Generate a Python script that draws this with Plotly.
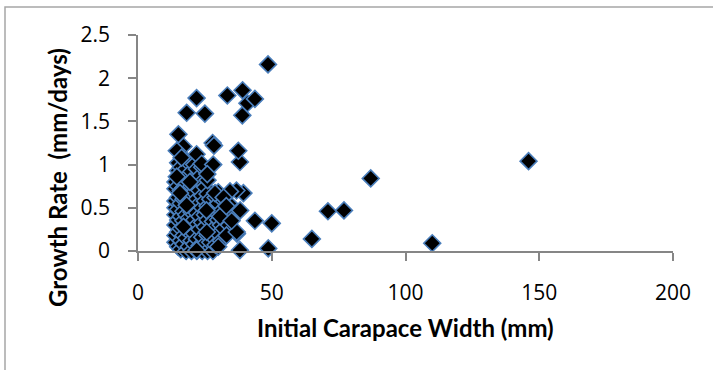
import plotly.graph_objects as go

# Outlying / readable points
x_out = [146, 87, 110, 65, 71, 77, 48.6, 48.7, 50, 43.7, 38.1, 37, 38.2, 39.4, 36.8,
         38.1, 37.5, 39, 40.9, 43.7, 39.1, 33.4, 21.9, 18.2, 25, 15.1, 27.9, 28.4,
         17, 14.5, 16.3, 21.9, 23.8, 28.1, 25.9, 19.4, 14.5, 15.7, 28.8, 34.4, 25.6,
         18.2, 30.7, 17, 33.1, 36.9, 25.7, 21.9, 32, 33, 35, 30]
y_out = [1.04, 0.84, 0.09, 0.14, 0.46, 0.47, 2.16, 0.03, 0.32, 0.35, 0.01, 0.20, 0.47, 0.67, 0.70,
         1.03, 1.16, 1.57, 1.71, 1.76, 1.86, 1.80, 1.77, 1.60, 1.59, 1.35, 1.25, 1.22,
         1.21, 1.16, 1.08, 1.12, 1.01, 1.00, 0.89, 0.80, 0.86, 0.67, 0.67, 0.69, 0.47,
         0.53, 0.40, 0.28, 0.18, 0.22, 0.22, 0.01, 0.62, 0.52, 0.35, 0.05]

# Dense cluster of small crabs
x_dense = [14, 14, 14, 14, 14, 14, 14, 14,
           15, 15, 15, 15, 15, 15, 15, 15,
           16, 16, 16, 16, 16, 16, 16, 16,
           17, 17, 17, 17, 17, 17, 17,
           18, 18, 18, 18, 18, 18, 18, 18,
           19, 19, 19, 19, 19, 19,
           20, 20, 20, 20, 20, 20, 20,
           21, 21, 21, 21, 21, 21, 21,
           22, 22, 22, 22, 22, 22, 22,
           23, 23, 23, 23, 23, 23,
           24, 24, 24, 24, 24, 24, 24,
           25, 25, 25, 25, 25,
           26, 26, 26, 26, 26, 26,
           27, 27, 27, 27,
           28, 28, 28, 28,
           29, 29, 29, 29,
           30, 30, 30, 30,
           31, 31, 31,
           32, 32, 32,
           34, 34, 34]
y_dense = [0.10, 0.18, 0.30, 0.42, 0.50, 0.58, 0.72, 0.80,
           0.05, 0.22, 0.36, 0.48, 0.62, 0.75, 0.93, 1.02,
           0.02, 0.12, 0.26, 0.40, 0.55, 0.70, 0.84, 0.97,
           0.08, 0.18, 0.35, 0.46, 0.60, 0.73, 0.90,
           0.00, 0.15, 0.30, 0.42, 0.65, 0.78, 0.95, 1.05,
           0.05, 0.22, 0.38, 0.57, 0.70, 0.88,
           0.00, 0.12, 0.28, 0.45, 0.62, 0.75, 0.92,
           0.08, 0.20, 0.36, 0.52, 0.68, 0.84, 1.00,
           0.00, 0.14, 0.30, 0.44, 0.60, 0.78, 0.95,
           0.06, 0.25, 0.40, 0.55, 0.70, 0.86,
           0.00, 0.16, 0.33, 0.50, 0.64, 0.80, 0.97,
           0.08, 0.28, 0.42, 0.58, 0.74,
           0.00, 0.18, 0.36, 0.52, 0.66, 0.82,
           0.10, 0.26, 0.44, 0.60,
           0.00, 0.16, 0.34, 0.50,
           0.07, 0.28, 0.45, 0.62,
           0.20, 0.36, 0.55, 0.68,
           0.12, 0.30, 0.46,
           0.26, 0.42, 0.58,
           0.30, 0.45, 0.55]

x_vals = x_dense + x_out
y_vals = y_dense + y_out

x_ticks = [0, 50, 100, 150, 200]
y_ticks = [0, 0.5, 1, 1.5, 2, 2.5]
y_tick_text = ["0", "0.5", "1", "1.5", "2", "2.5"]

AXIS = "#868686"
FONT = "Open Sans, sans-serif"
TFONT = "Lato, sans-serif"

fig = go.Figure()
fig.add_trace(go.Scatter(
    x=x_vals, y=y_vals, mode="markers", cliponaxis=False,
    marker=dict(symbol="diamond", size=13, color="black",
                line=dict(color="#4A7EBB", width=1.6)),
    showlegend=False,
))

fig.update_layout(
    width=713, height=370,
    margin=dict(l=138, r=40, t=35, b=119),
    paper_bgcolor="white", plot_bgcolor="white",
    font=dict(family=FONT, color="black"),
    xaxis=dict(range=[0, 200], tickvals=x_ticks, showgrid=False, zeroline=False,
               showline=True, linecolor=AXIS, linewidth=1.5,
               ticks="outside", ticklen=8, tickcolor=AXIS, tickwidth=1.5,
               ticklabelstandoff=14,
               tickfont=dict(size=21, family=FONT)),
    yaxis=dict(range=[0, 2.5], tickvals=y_ticks, ticktext=y_tick_text, showgrid=False,
               zeroline=False, showline=True, linecolor=AXIS, linewidth=1.5,
               ticks="outside", ticklen=8, tickcolor=AXIS, tickwidth=1.5,
               ticklabelstandoff=14,
               tickfont=dict(size=21, family=FONT)),
)

# axis titles (placed as in the original Excel chart)
fig.add_annotation(text="<b>Initial Carapace Width (mm)</b>", xref="paper", yref="paper",
                   x=0.5, y=(251 - 327) / 216, showarrow=False,
                   xanchor="center", yanchor="middle",
                   font=dict(size=24, family=TFONT, color="black"))
fig.add_annotation(text="<b>Growth Rate  (mm/days)</b>", xref="paper", yref="paper",
                   x=(57 - 138) / 535, y=(251 - 178) / 216, showarrow=False, textangle=-90,
                   xanchor="center", yanchor="middle",
                   font=dict(size=24, family=TFONT, color="black"))

# outer chart-area border (extends past right and bottom edges)
fig.add_shape(type="rect", xref="paper", yref="paper",
              x0=(5 - 138) / 535, x1=(730 - 138) / 535,
              y0=(251 - 390) / 216, y1=(251 - 7) / 216,
              line=dict(color="#A6A6A6", width=1.5), fillcolor="rgba(0,0,0,0)",
              layer="below")

fig.write_html("out.html")
